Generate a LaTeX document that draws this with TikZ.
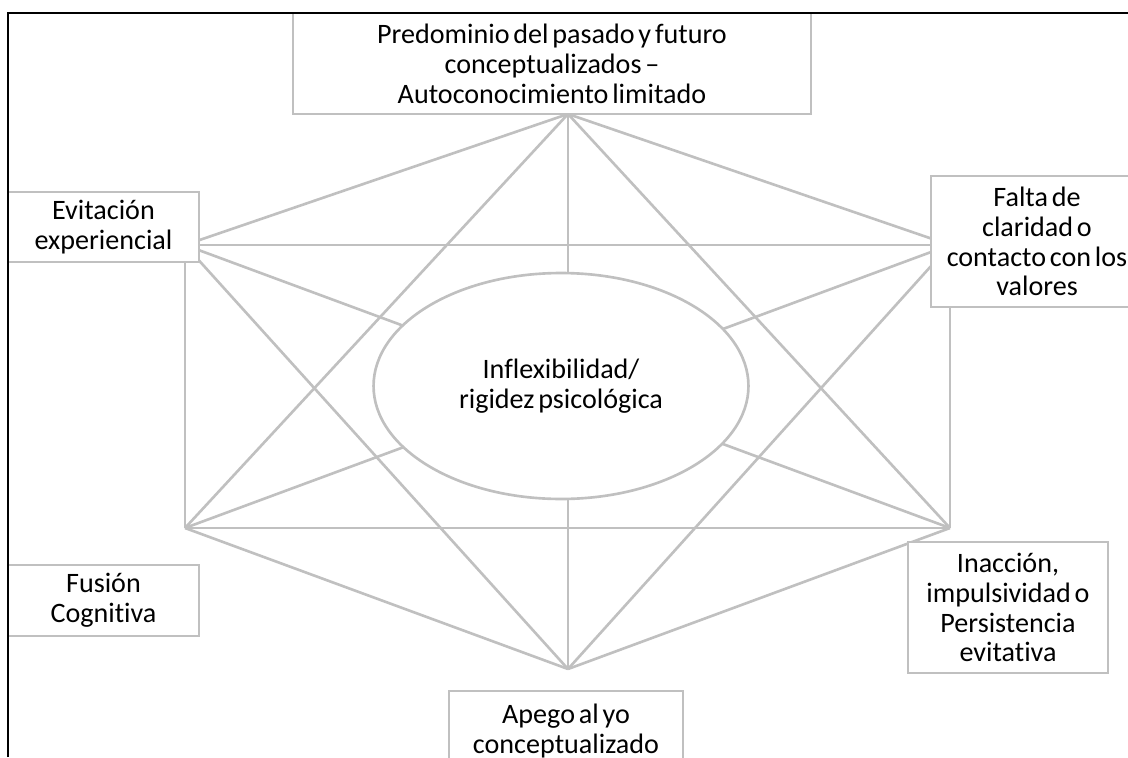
\documentclass[tikz,border=0pt]{standalone}
\usepackage{fontspec}
\setmainfont[Ligatures=NoCommon, WordSpace=0.6]{Carlito}
\usepackage{tikz}
\usetikzlibrary{shapes.geometric, backgrounds}
\definecolor{linegray}{RGB}{192,192,192}
\tikzset{
  box/.style={
    draw=linegray, line width=1.5pt, fill=white,
    inner sep=0pt, align=center,
    font=\fontsize{16}{17}\selectfont
  },
  link/.style={draw=linegray, line width=1.5pt},
  frame/.style={draw=black, line width=1.6pt},
}

\begin{document}
\begin{tikzpicture}[x=0.02cm, y=-0.02cm]
  \useasboundingbox (0,0) rectangle (1128,757);

  % cuadros
  \node[box, minimum width=10.36cm, minimum height=2.02cm]
    (pasado) at (552,63.5)
    {Predominio del pasado y futuro\\conceptualizados –\\Autoconocimiento limitado};
  \node[box, minimum width=3.82cm, minimum height=1.40cm]
    (evitacion) at (103.5,227) {Evitación\\experiencial};
  \node[box, minimum width=4.24cm, minimum height=2.62cm]
    (valores) at (1037,241.5)
    {Falta de\\claridad o\\contacto con los\\valores};
  \node[box, minimum width=3.82cm, minimum height=1.42cm]
    (fusion) at (103.5,600.5) {Fusión\\Cognitiva};
  \node[box, minimum width=4.00cm, minimum height=2.62cm]
    (accion) at (1008,607.5)
    {Inacción,\\impulsividad o\\Persistencia\\evitativa};
  \node[box, minimum width=4.68cm, minimum height=1.60cm]
    (apego) at (566,731) {Apego al yo\\conceptualizado};
  \node[box, ellipse, minimum width=7.5cm, minimum height=4.52cm]
    (rigidez) at (561,386) {Inflexibilidad/\\rigidez psicológica};

  % vertices del hexagono
  \coordinate (t)  at (568,114);
  \coordinate (ul) at (185,245);
  \coordinate (ur) at (950,245);
  \coordinate (ll) at (185,528);
  \coordinate (lr) at (950,528);
  \coordinate (b)  at (568,669);

  \begin{scope}[on background layer]
    \foreach \a/\b in {t/ul, t/ur, t/ll, t/lr, t/b, ul/ur, ul/ll, ul/lr,
                       ul/b, ur/ll, ur/lr, ur/b, ll/lr, ll/b, lr/b}
      \draw[link] (\a) -- (\b);
  \end{scope}

  \draw[frame] (8,757) -- (8,13) -- (1128,13);
\end{tikzpicture}
\end{document}
